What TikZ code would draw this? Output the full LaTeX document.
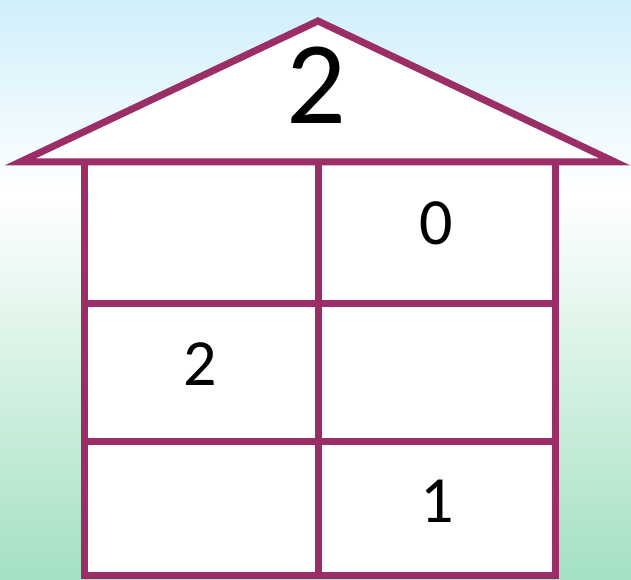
\documentclass[tikz,border=0pt]{standalone}
\usepackage{fontspec}
\setmainfont{Carlito}
\definecolor{house}{RGB}{155,45,103}
\definecolor{skyblue}{RGB}{208,239,251}
\definecolor{grass}{RGB}{164,225,194}
\begin{document}
\begin{tikzpicture}[x=1pt,y=-1pt,
  wall/.style={draw=house,line width=7pt},
  digit/.style={inner sep=0pt,font=\fontsize{66}{66}\selectfont},
  bigdigit/.style={inner sep=0pt,font=\fontsize{118}{118}\selectfont}]
\useasboundingbox (0,0) rectangle (631,580);
% background
\shade[top color=skyblue,bottom color=white] (0,0) rectangle (631,195);
\shade[top color=white,bottom color=grass] (0,195) rectangle (631,580);
% coordinates
\coordinate (tl) at (84,162);
\coordinate (tr) at (555,162);
\coordinate (bl) at (84,575);
\coordinate (br) at (555,575);
\coordinate (mt) at (318,162);
\coordinate (mb) at (318,575);
\coordinate (l1) at (84,303);
\coordinate (r1) at (555,303);
\coordinate (l2) at (84,441);
\coordinate (r2) at (555,441);
\coordinate (rl) at (20,162);
\coordinate (ra) at (318,21);
\coordinate (rr) at (615,162);
% body
\fill[white] (tl) rectangle (br);
\draw[wall] (tl) -- (bl) -- (br) -- (tr);
\draw[wall] (mt) -- (mb);
\draw[wall] (l1) -- (r1);
\draw[wall] (l2) -- (r2);
% roof
\draw[wall,fill=white,line join=miter] (rl) -- (ra) -- (rr) -- cycle;
% numbers
\node[bigdigit] (top) at (316,85) {2};
\node[digit] (c12) at (436,223) {0};
\node[digit] (c21) at (200,364) {2};
\node[digit] (c32) at (437,501) {1};
\end{tikzpicture}
\end{document}
